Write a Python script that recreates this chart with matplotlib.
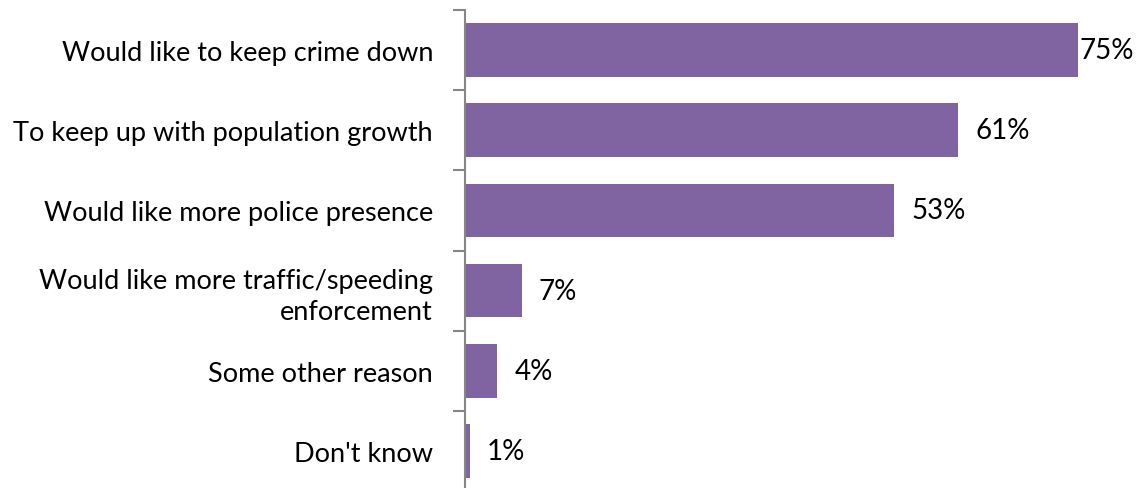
import matplotlib
matplotlib.use("Agg")
import matplotlib.pyplot as plt

categories = ["Would like to keep crime down",
              "To keep up with population growth",
              "Would like more police presence",
              "Would like more traffic/speeding\nenforcement",
              "Some other reason",
              "Don't know"]
values = [75.7, 60.9, 53.0, 7.0, 4.0, 0.6]
labels = ["75%", "61%", "53%", "7%", "4%", "1%"]

plt.rcParams['font.family'] = ['Lato', 'DejaVu Sans']

fig = plt.figure(figsize=(11.46, 4.89), dpi=100)
# axes spans px 11..492 vertically (bottom slightly below the figure edge)
ax = fig.add_axes([465 / 1146, -3 / 489, 1 - 465 / 1146, 481 / 489])

ypos = list(range(len(categories)))
ax.barh(ypos, values, height=0.67, color="#8064A2")
ax.set_ylim(len(categories) - 0.5, -0.5)
ax.set_xlim(0, 84.1)

for i, (v, lab) in enumerate(zip(values, labels)):
    if v > 70:
        ax.text(v + 0.2, i, lab, va="center", ha="left", fontsize=20)
    else:
        ax.text(v + 2.1, i, lab, va="center", ha="left", fontsize=20)

ax.set_yticks([y - 0.5 for y in range(len(categories) + 1)], minor=False)
ax.set_yticklabels([])
ax.set_yticks(ypos, minor=True)
ax.set_yticklabels(categories, minor=True, fontsize=19.5, linespacing=1.3)
ax.tick_params(axis="y", which="major", length=9, width=1.5, color="#868686", direction="out")
ax.tick_params(axis="y", which="minor", length=0, pad=23)
for t in ax.get_yticklabels(minor=True):
    t.set_horizontalalignment("right")

ax.set_xticks([])
for s in ["top", "right", "bottom"]:
    ax.spines[s].set_visible(False)
ax.spines["left"].set_color("#868686")
ax.spines["left"].set_linewidth(1.5)

fig.savefig("out.png", dpi=100)
